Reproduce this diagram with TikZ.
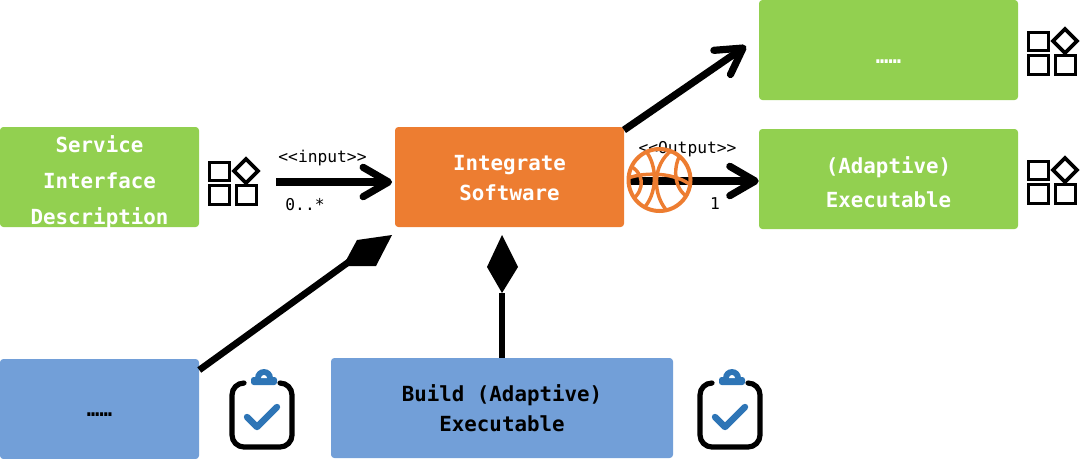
\documentclass[tikz,border=0pt]{standalone}
\usepackage{fontspec}
\setmainfont{DejaVu Sans Mono}
\usetikzlibrary{arrows.meta}
\definecolor{grn}{HTML}{92D050}
\definecolor{org}{HTML}{ED7D31}
\definecolor{blu}{HTML}{729FD8}
\definecolor{chk}{HTML}{2E75B6}
\tikzset{
  x=.75pt,y=-.75pt,
  boxbase/.style={rounded corners=2.5pt,inner sep=0pt,align=center,font=\bfseries\fontsize{15.6}{22.5}\selectfont},
  greenbox/.style={boxbase,fill=grn,text=white},
  orangebox/.style={boxbase,fill=org,text=white},
  bluebox/.style={boxbase,fill=blu,text=black},
  smalltext/.style={inner sep=0pt,font=\fontsize{12.2}{14}\selectfont,text=black},
  conn/.style={line width=5.4pt,-{Straight Barb[round,length=19pt,width=22pt,line width=5.4pt]}},
  diaconn/.style={line width=5pt},
  diatip/.style={fill=black,draw=none},
  comp/.pic={
    \draw[line width=2.7pt,black] (-23.5,-8.5) rectangle (-3.5,9.5);
    \draw[line width=2.7pt,black] (-23.5,14.5) rectangle (-3.5,33.5);
    \draw[line width=2.7pt,black] (3.5,14.5) rectangle (23.5,33.5);
    \draw[line width=2.7pt,black] (13,-12) -- (25,0) -- (13,12) -- (1,0) -- cycle;
  },
  clip board/.pic={
    \draw[line width=3.9pt,black,line cap=round,rounded corners=9pt] (-18,-32) -- (-30,-32) -- (-30,32) -- (30,32) -- (30,-32) -- (18,-32);
    \fill[chk,rounded corners=2pt] (-11,-38) rectangle (15,-30);
    \fill[chk] (-7,-37) arc[start angle=180,end angle=360,radius=9] -- cycle;
    \fill[white] (-1,-37) arc[start angle=180,end angle=360,radius=3] -- cycle;
    \draw[chk,line width=4.8pt,line cap=round,line join=round] (-15,2) -- (-5,12) -- (15,-8);
  },
}
\begin{document}
\begin{tikzpicture}
\useasboundingbox (0,0) rectangle (1080,458);
% boxes
\node[greenbox,minimum width=149.25pt,minimum height=75pt] (sid) at (99.5,177) {};
\node[orangebox,minimum width=171.75pt,minimum height=75pt] (integ) at (509.5,177) {};
\node[greenbox,minimum width=194.25pt,minimum height=75pt] (top) at (888.5,50) {};
\node[greenbox,minimum width=194.25pt,minimum height=75pt] (exe) at (888.5,179) {};
\node[bluebox,minimum width=149.25pt,minimum height=75pt] (leftb) at (99.5,409) {};
\node[bluebox,minimum width=256.5pt,minimum height=75pt] (build) at (502,408) {};
% box texts
\node[boxbase,text=white] (sidt) at (99.5,182) {Service\\[4.5pt]Interface\\[4.5pt]Description};
\node[boxbase,text=white] (integt) at (509.5,178) {Integrate\\Software};
\node[boxbase,text=white] (topt) at (888.5,62) {……};
\node[boxbase,text=white] (exet) at (888.5,182) {(Adaptive)\\[3pt]Executable};
\node[boxbase,text=black] (leftt) at (99.5,415) {……};
\node[boxbase,text=black] (buildt) at (502,408) {Build (Adaptive)\\Executable};
% free ends
\coordinate (inS) at (276,182);
\coordinate (outS) at (630,181);
\coordinate (topS) at (624,130);
\coordinate (topE) at (746,46);
\coordinate (dT) at (392,235);
\coordinate (dB) at (343,266);
\coordinate (vT) at (502,235);
\coordinate (vB) at (502,293);
% connectors
\draw[conn,shorten >=2pt] (inS) -- (integ.west |- inS);
\draw[conn] (outS) -- (exe.west |- outS);
\draw[conn] (topS) -- (topE);
\draw[diaconn] (leftb.north east |- 0,370) -- (350,261);
\draw[diaconn] (build.north) -- (vB);
\fill[diatip] (dT) -- (376,266) -- (dB) -- (357,240) -- cycle;
\fill[diatip] (vT) -- (518,267) -- (vB) -- (487,267) -- cycle;
% labels
\node[smalltext] (linp) at (322.5,158) {<{}<input>{}>};
\node[smalltext] (lzero) at (305,205) {0..*};
\node[smalltext] (lout) at (687.5,149) {<{}<Output>{}>};
\node[smalltext] (lone) at (715,204) {1};
% basketball
\node[circle,draw=org,line width=3pt,minimum size=46.5pt,inner sep=0pt] (ball) at (659.5,180) {};
\begin{scope}
\clip (ball) circle[radius=31];
\draw[org,line width=2.6pt]
  (628,178) .. controls (645,172) and (675,172) .. (692,186)
  (645,150) .. controls (658,165) and (658,195) .. (642,210)
  (672,150) .. controls (652,165) and (652,195) .. (668,212)
  (628,165) .. controls (645,172) and (645,190) .. (632,200)
  (680,155) .. controls (672,170) and (675,192) .. (690,198);
\end{scope}
% icons
\pic at (233,171) {comp};
\pic at (1052,41) {comp};
\pic at (1052,170) {comp};
\pic at (262,415) {clip board};
\pic at (730,415) {clip board};
\end{tikzpicture}
\end{document}
